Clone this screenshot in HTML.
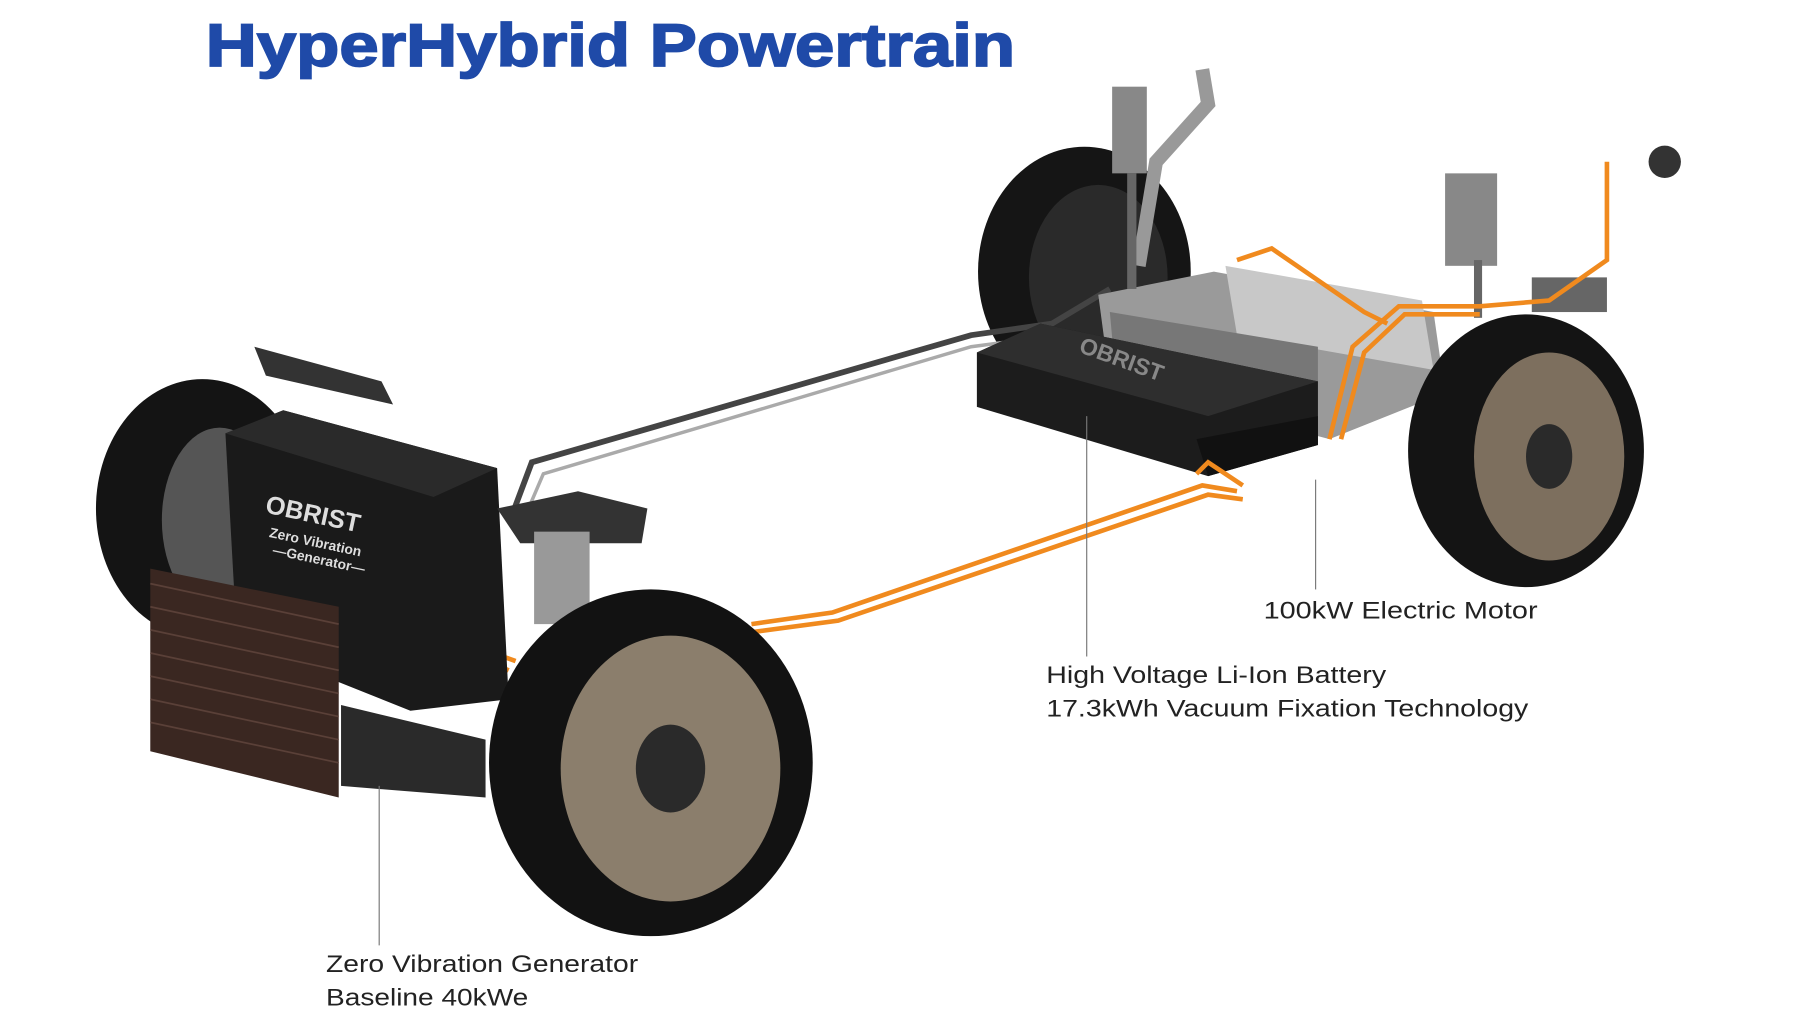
<!DOCTYPE html>
<html><head><meta charset="utf-8"><style>
html,body{margin:0;padding:0;background:#fff;width:1800px;height:1024px;overflow:hidden}
svg{display:block}
</style></head><body>
<svg width="1800" height="1024" viewBox="0 0 1557 886" preserveAspectRatio="none" xmlns="http://www.w3.org/2000/svg">
<rect width="1557" height="886" fill="#fff"/>
<text x="178" y="57" font-family="Liberation Sans, sans-serif" font-weight="900" font-size="52" fill="#1f4aa8" textLength="700" lengthAdjust="spacingAndGlyphs" stroke="#1f4aa8" stroke-width="1.5">HyperHybrid Powertrain</text>

<!-- far right wheel -->
<ellipse cx="938" cy="235" rx="92" ry="108" fill="#151515"/>
<ellipse cx="950" cy="240" rx="60" ry="80" fill="#2a2a2a"/>
<!-- rear left wheel -->
<ellipse cx="175" cy="440" rx="92" ry="112" fill="#141414"/>
<ellipse cx="190" cy="450" rx="50" ry="80" fill="#555"/>

<!-- pipes -->
<path d="M445 440 L460 400 L840 290 L910 280 L960 250" stroke="#444" stroke-width="5" fill="none"/>
<path d="M452 452 L470 410 L840 300 L900 292" stroke="#aaa" stroke-width="3" fill="none"/>
<path d="M985 230 L1000 140 L1045 90 L1040 60" stroke="#999" stroke-width="12" fill="none"/>

<!-- motor / engine block -->
<path d="M950 255 L1050 235 L1240 270 L1250 340 L1150 380 L960 330 Z" fill="#9a9a9a"/>
<path d="M1060 230 L1230 260 L1240 320 L1070 290 Z" fill="#c8c8c8"/>
<path d="M960 270 L1140 300 L1140 360 L965 325 Z" fill="#777"/>

<!-- battery -->
<path d="M845 305 L900 280 L1140 330 L1140 385 L1045 412 L845 352 Z" fill="#1c1c1c"/>
<path d="M845 305 L900 280 L1140 330 L1045 360 Z" fill="#2e2e2e"/>
<path d="M1035 380 L1140 360 L1140 385 L1045 412 Z" fill="#111"/>
<text x="930" y="318" transform="rotate(20 970 318)" font-family="Liberation Sans, sans-serif" font-weight="bold" font-size="20" fill="#888">OBRIST</text>

<!-- springs -->
<rect x="962" y="75" width="30" height="75" fill="#888"/>
<rect x="1250" y="150" width="45" height="80" fill="#888"/>
<rect x="975" y="150" width="8" height="100" fill="#666"/>
<rect x="1275" y="225" width="7" height="50" fill="#666"/>
<rect x="1325" y="240" width="65" height="30" fill="#666"/>
<circle cx="1440" cy="140" r="14" fill="#333"/>

<!-- right rear wheel -->
<ellipse cx="1320" cy="390" rx="102" ry="118" fill="#141414"/>
<ellipse cx="1340" cy="395" rx="65" ry="90" fill="#7d6f5e"/>
<ellipse cx="1340" cy="395" rx="20" ry="28" fill="#2a2a2a"/>

<!-- orange cables -->
<g stroke="#f08a1e" stroke-width="4" fill="none">
<path d="M650 540 L720 530 L1040 420 L1070 425"/>
<path d="M650 547 L725 537 L1045 428 L1075 432"/>
<path d="M1035 410 L1045 400 L1075 420"/>
<path d="M1150 380 L1170 300 L1210 265 L1280 265 L1340 260 L1390 225 L1390 140"/>
<path d="M1160 380 L1180 305 L1215 272 L1280 272"/>
<path d="M1070 225 L1100 215 L1180 270 L1200 280"/>
<path d="M360 480 L395 560 L440 580"/>
<path d="M368 478 L402 556 L446 572"/>
</g>

<!-- generator box -->
<path d="M195 375 L245 355 L430 405 L440 605 L355 615 L205 555 Z" fill="#1a1a1a"/>
<path d="M195 375 L245 355 L430 405 L375 430 Z" fill="#2a2a2a"/>
<g font-family="Liberation Sans, sans-serif" font-weight="bold" fill="#ddd" transform="rotate(12 260 450)">
<text x="228" y="450" font-size="22">OBRIST</text>
<text x="236" y="470" font-size="12">Zero Vibration</text>
<text x="242" y="484" font-size="12">—Generator—</text>
</g>
<path d="M220 300 L330 330 L340 350 L230 325 Z" fill="#333"/>
<!-- radiator -->
<path d="M130 492 L293 525 L293 690 L130 650 Z" fill="#3a2721"/>
<g stroke="#5a4038" stroke-width="1.5">
<line x1="130" y1="505" x2="293" y2="540"/><line x1="130" y1="525" x2="293" y2="560"/>
<line x1="130" y1="545" x2="293" y2="580"/><line x1="130" y1="565" x2="293" y2="600"/>
<line x1="130" y1="585" x2="293" y2="620"/><line x1="130" y1="605" x2="293" y2="640"/>
<line x1="130" y1="625" x2="293" y2="660"/>
</g>
<path d="M295 610 L420 640 L420 690 L295 680 Z" fill="#2a2a2a"/>
<path d="M430 440 L500 425 L560 440 L555 470 L450 470 Z" fill="#333"/>
<rect x="462" y="460" width="48" height="80" fill="#999"/>

<!-- front left wheel -->
<ellipse cx="563" cy="660" rx="140" ry="150" fill="#121212"/>
<ellipse cx="580" cy="665" rx="95" ry="115" fill="#8b7e6c"/>
<ellipse cx="580" cy="665" rx="30" ry="38" fill="#2a2a2a"/>

<!-- leader lines -->
<g stroke="#777" stroke-width="1">
<line x1="940" y1="360" x2="940" y2="568"/>
<line x1="1138" y1="415" x2="1138" y2="510"/>
<line x1="328" y1="680" x2="328" y2="818"/>
</g>
<g font-family="Liberation Sans, sans-serif" font-size="21" fill="#222" lengthAdjust="spacingAndGlyphs">
<text x="1093" y="535" textLength="237" lengthAdjust="spacingAndGlyphs">100kW Electric Motor</text>
<text x="905" y="591" textLength="294" lengthAdjust="spacingAndGlyphs">High Voltage Li-Ion Battery</text>
<text x="905" y="620" textLength="417" lengthAdjust="spacingAndGlyphs">17.3kWh Vacuum Fixation Technology</text>
<text x="282" y="841" textLength="270" lengthAdjust="spacingAndGlyphs">Zero Vibration Generator</text>
<text x="282" y="870" textLength="175" lengthAdjust="spacingAndGlyphs">Baseline 40kWe</text>
</g>
</svg>
</body></html>
